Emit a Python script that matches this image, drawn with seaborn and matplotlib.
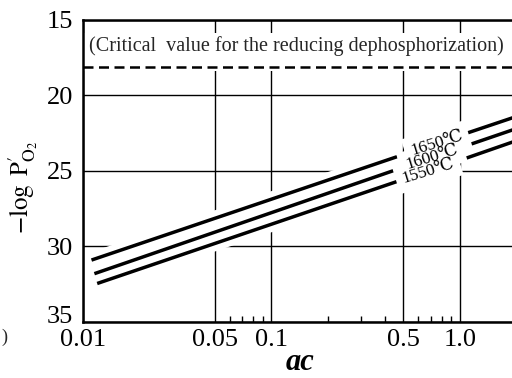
import numpy as np
import pandas as pd
import matplotlib
matplotlib.use("Agg")
import matplotlib.pyplot as plt
import matplotlib.patheffects as pe
import matplotlib.transforms as mtransforms
from matplotlib.ticker import FixedLocator, NullFormatter, FixedFormatter
import seaborn as sns

# ---------------- data ----------------
temps = ["1650℃", "1600℃", "1550℃"]
ac_1650 = [0.0111, 0.465, 1.08, 2.0]
ac_1600 = [0.0115, 0.465, 1.08, 2.0]
ac_1550 = [0.0119, 0.465, 1.08, 2.0]
logp_1650 = [30.9, 24.06, 22.52, 21.4]
logp_1600 = [31.8, 24.9, 23.34, 22.2]
logp_1550 = [32.45, 25.7, 24.16, 23.0]
segment = [0, 0, 1, 1]
critical_value = 18.1
critical_text = "(Critical  value for the reducing dephosphorization)"
x_ticks = [0.01, 0.05, 0.1, 0.5, 1.0]
x_ticklabels = ["0.01", "0.05", "0.1", "0.5", "1.0"]
x_minor = [0.06, 0.07, 0.08, 0.09, 0.2, 0.3, 0.4, 0.6, 0.7, 0.8, 0.9]
y_ticks = [15, 20, 25, 30, 35]

rows = []
for t, acs, vals in zip(temps, [ac_1650, ac_1600, ac_1550],
                        [logp_1650, logp_1600, logp_1550]):
    for a, v, s in zip(acs, vals, segment):
        rows.append({"temp": t, "ac": a, "logp": v, "unit": f"{t}-{s}"})
df = pd.DataFrame(rows)

# ---------------- style ----------------
sns.set_theme(style="white")
plt.rcParams["font.family"] = ["Liberation Serif", "DejaVu Serif"]
plt.rcParams["mathtext.fontset"] = "stix"

fig = plt.figure(figsize=(5.12, 3.78), dpi=100)
ax = fig.add_axes([0.162, 0.148, 0.838, 0.800])

sns.lineplot(data=df, x="ac", y="logp", hue="temp", units="unit",
             estimator=None, sort=False, palette=["black"] * 3,
             legend=False, ax=ax, linewidth=2.5, zorder=3)
for ln in ax.lines:
    ln.set_solid_capstyle("butt")
    ln.set_path_effects([pe.Stroke(linewidth=11, foreground="white"), pe.Normal()])

ax.set_xscale("log")
ax.set_xlim(0.01, 1.89)
ax.set_ylim(35, 15)

# grid
ax.xaxis.set_major_locator(FixedLocator(x_ticks))
ax.xaxis.set_major_formatter(FixedFormatter(x_ticklabels))
ax.xaxis.set_minor_locator(FixedLocator(x_minor))
ax.xaxis.set_minor_formatter(NullFormatter())
ax.set_yticks(y_ticks)
ax.set_yticklabels([str(v) for v in y_ticks])
ax.grid(True, which="major", color="black", linewidth=1.0)
ax.set_axisbelow(True)

# white band behind the critical-value text
ax.axhspan(15.85, 18.4, color="white", zorder=1.5, lw=0)
ax.axhline(critical_value, color="black", linewidth=1.8,
           linestyle=(0, (4, 2.2)), zorder=3)
ax.text(0.0108, 16.75, critical_text, fontsize=14.5, ha="left", va="center",
        zorder=4)

# temperature labels in the gaps
label_x = [0.754, 0.71, 0.676]
for t, vals, xm in zip(temps, [logp_1650, logp_1600, logp_1550], label_x):
    ym = np.interp(np.log10(xm), np.log10([ac_1650[1], ac_1650[2]]),
                   [vals[1], vals[2]])
    kw = dict(rotation=17, ha="center", va="center", fontsize=12.5,
              rotation_mode="anchor")
    ax.text(xm, ym, t, color="white", zorder=4,
            bbox=dict(boxstyle="square,pad=0.35", fc="white", ec="none"), **kw)
    ax.text(xm, ym, t, color="black", zorder=5, **kw)

# spines & ticks
for side in ["left", "bottom", "top"]:
    ax.spines[side].set_color("black")
    ax.spines[side].set_linewidth(1.8)
ax.spines["right"].set_visible(False)
ax.tick_params(axis="both", which="major", length=0, labelsize=19,
               colors="black")
ax.tick_params(axis="x", which="major", pad=5)
ax.tick_params(axis="y", which="major", pad=7)
ax.tick_params(axis="x", which="minor", direction="in", length=4, width=1,
               bottom=True, top=False, color="black")
# the lowest y label sits a bit above its tick
fig.canvas.draw()
lab35 = ax.get_yticklabels()[-1]
lab35.set_transform(lab35.get_transform() +
                    mtransforms.ScaledTranslation(0, 8 / 100, fig.dpi_scale_trans))

ax.set_xlabel("ac", fontstyle="italic", fontweight="bold", fontsize=22,
              color="black", va="bottom")
ax.xaxis.set_label_coords(0.506, -0.183)
ax.set_ylabel(r"$-\log\ \mathrm{P}^{\prime}_{\mathrm{O}_2}$", fontsize=18,
              color="black")
ax.yaxis.set_label_coords(-0.100, 0.446)

fig.text(0.002, 0.108, ")", fontsize=13, ha="left", va="center")

fig.savefig("out.png", dpi=100)
